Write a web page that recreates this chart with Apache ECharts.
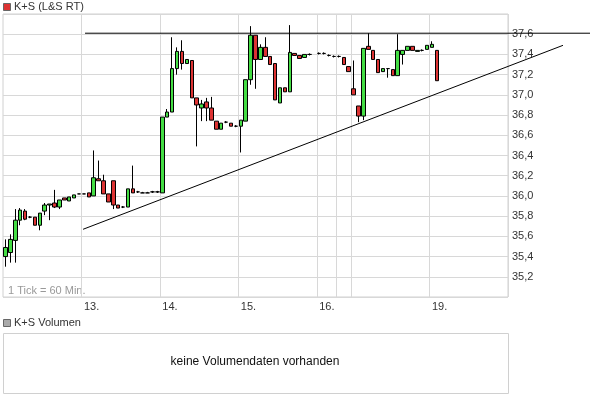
<!DOCTYPE html>
<html><head><meta charset="utf-8">
<script src="https://cdn.jsdelivr.net/npm/echarts@6/dist/echarts.min.js"></script>
<style>html,body{margin:0;padding:0;background:#fff}#c{width:604px;height:413px}</style>
</head><body><div id="c"></div>
<script>
var opens  = [35.40,35.44,35.56,35.76,35.85,35.79,35.79,35.71,35.85,35.91,35.93,35.89,35.98,35.95,35.98,36.02,36.02,36.03,36.00,36.17,36.15,36.02,36.15,35.91,35.89,35.89,36.07,36.04,36.03,36.03,36.04,36.04,36.03,36.78,36.83,37.26,37.43,37.31,37.34,36.97,36.87,36.93,36.87,36.74,36.66,36.73,36.72,36.69,36.69,36.74,37.15,37.59,37.35,37.47,37.38,37.31,36.92,37.07,37.03,37.41,37.39,37.37,37.40,null,37.41,37.41,37.39,37.38,37.38,37.37,37.28,37.06,36.89,36.79,37.48,37.44,37.35,37.23,37.26,37.25,37.19,37.40,37.44,37.48,37.43,37.44,37.45,37.47,37.44];
var closes = [35.49,35.57,35.76,35.86,35.77,35.79,35.71,35.83,35.91,35.92,35.89,35.96,35.96,35.99,36.01,36.02,36.02,35.99,36.18,36.15,36.02,35.94,35.91,35.88,35.89,36.07,36.03,36.04,36.03,36.03,36.04,36.04,36.78,36.83,37.26,37.43,37.31,37.35,36.97,36.90,36.91,36.87,36.75,36.66,36.72,36.73,36.69,36.69,36.75,37.15,37.59,37.35,37.47,37.38,37.30,36.95,37.07,37.03,37.42,37.39,37.36,37.40,37.40,null,37.41,37.41,37.39,37.38,37.38,37.30,37.23,37.00,36.79,37.46,37.45,37.35,37.22,37.26,37.26,37.19,37.44,37.44,37.48,37.44,37.44,37.44,37.49,37.50,37.14];
var lows   = [35.30,35.34,35.34,35.71,35.76,35.78,35.71,35.66,35.81,35.76,35.88,35.87,35.96,35.95,35.98,36.02,36.02,35.99,36.00,36.15,36.02,35.94,35.87,35.88,35.88,35.89,36.03,36.03,36.03,36.03,36.03,36.03,36.03,36.78,36.83,37.20,37.25,37.31,36.97,36.49,36.74,36.74,36.75,36.66,36.66,36.72,36.69,36.68,36.43,36.74,37.10,37.06,37.35,37.38,37.30,36.95,36.92,37.03,37.03,37.39,37.36,37.37,37.39,null,37.40,37.40,37.38,37.37,37.37,37.30,37.23,37.00,36.73,36.75,37.45,37.35,37.22,37.23,37.17,37.19,37.19,37.30,37.44,37.44,37.43,37.43,37.45,37.47,37.14];
var highs  = [35.57,35.62,35.87,35.88,35.87,35.80,35.79,35.83,35.93,35.92,36.06,35.96,35.98,35.99,36.01,36.02,36.02,36.03,36.45,36.35,36.21,36.02,36.15,35.91,35.90,36.07,36.30,36.05,36.04,36.04,36.05,36.05,36.78,36.86,37.57,37.47,37.54,37.35,37.34,36.97,36.95,36.97,36.98,36.74,36.72,36.74,36.72,36.70,36.75,37.15,37.68,37.59,37.50,37.57,37.38,37.31,37.07,37.07,37.69,37.41,37.39,37.40,37.41,null,37.42,37.42,37.40,37.39,37.39,37.37,37.28,37.34,36.89,37.46,37.61,37.44,37.35,37.26,37.26,37.25,37.60,37.44,37.48,37.48,37.44,37.45,37.49,37.53,37.44];
var numCategories = 103;
var dayLabels = {16:'13.',32:'14.',48:'15.',64:'16.',87:'19.'};
var dayLines = [16,32,48,64,68,71,87];
var riseLine = [[15.8,35.67],[113.5,37.49]];
var topLine = [[16.2,37.61],[119,37.61]];
var yTicksShown = [35.2,35.4,35.6,35.8,36.0,36.2,36.4,36.6,36.8,37.0,37.2,37.4,37.6];

var cats = [], kdata = [];
for (var i = 0; i < numCategories; i++) {
  cats.push(String(i));
  if (i < opens.length && opens[i] !== null) kdata.push([opens[i], closes[i], lows[i], highs[i]]);
  else kdata.push('-');
}
var chart = echarts.init(document.getElementById('c'));
var font = 'Liberation Sans, Arial, sans-serif';
chart.setOption({
  animation: false,
  grid: [
    {left: 3, width: 505, top: 14, height: 283, show: true, borderColor: '#d0d0d0', borderWidth: 1},
    {left: 3, width: 587, top: 14, height: 283, show: false}
  ],
  xAxis: [
    {type: 'category', gridIndex: 0, data: cats, boundaryGap: true,
     axisLine: {show: false}, axisTick: {show: false},
     splitLine: {show: true, interval: function (i) { return dayLines.indexOf(i) >= 0; }, lineStyle: {color: '#d8d8d8'}},
     axisLabel: {interval: function (i) { return dayLabels[i] !== undefined; },
       formatter: function (v, i) { return dayLabels[i] || ''; },
       align: 'left', margin: 4, color: '#333', fontSize: 11, fontFamily: font}},
    {type: 'value', gridIndex: 1, min: -0.5, max: 119, show: false}
  ],
  yAxis: [
    {type: 'value', gridIndex: 0, min: 35.0, max: 37.8, interval: 0.2, position: 'right',
     axisLine: {show: false}, axisTick: {show: false},
     splitLine: {lineStyle: {color: '#d8d8d8'}},
     axisLabel: {margin: 4, color: '#333', fontSize: 11, fontFamily: font,
       formatter: function (v) {
         var r = Math.round(v * 10) / 10;
         return yTicksShown.indexOf(r) >= 0 ? r.toFixed(1).replace('.', ',') : '';
       }}},
    {type: 'value', gridIndex: 1, min: 35.0, max: 37.8, show: false}
  ],
  series: [
    {type: 'candlestick', xAxisIndex: 0, yAxisIndex: 0, data: kdata, barWidth: 4,
     itemStyle: {color: '#44dd44', color0: '#dd3333', borderColor: '#000', borderColor0: '#000', borderWidth: 1}},
    {type: 'line', xAxisIndex: 1, yAxisIndex: 1, data: riseLine, symbol: 'none', lineStyle: {color: '#000', width: 1}},
    {type: 'line', xAxisIndex: 1, yAxisIndex: 1, data: topLine, symbol: 'none', lineStyle: {color: '#000', width: 1}}
  ],
  graphic: [
    {type: 'rect', shape: {x: 3.5, y: 3.5, width: 7, height: 7}, style: {fill: '#dd3333', stroke: '#666'}},
    {type: 'text', x: 14, y: 1, style: {text: 'K+S (L&S RT)', fill: '#333', font: '11px ' + font}},
    {type: 'text', x: 8, y: 285, style: {text: '1 Tick = 60 Min.', fill: '#999', font: '11px ' + font}},
    {type: 'rect', shape: {x: 3.5, y: 319.5, width: 7, height: 7}, style: {fill: '#aaa', stroke: '#666'}},
    {type: 'text', x: 14, y: 317, style: {text: 'K+S Volumen', fill: '#333', font: '11px ' + font}},
    {type: 'rect', shape: {x: 3.5, y: 333.5, width: 505, height: 60}, style: {fill: 'none', stroke: '#d0d0d0'}},
    {type: 'text', x: 255, y: 362, style: {text: 'keine Volumendaten vorhanden', fill: '#111', font: '12px ' + font, align: 'center', verticalAlign: 'middle'}}
  ]
});
</script></body></html>
